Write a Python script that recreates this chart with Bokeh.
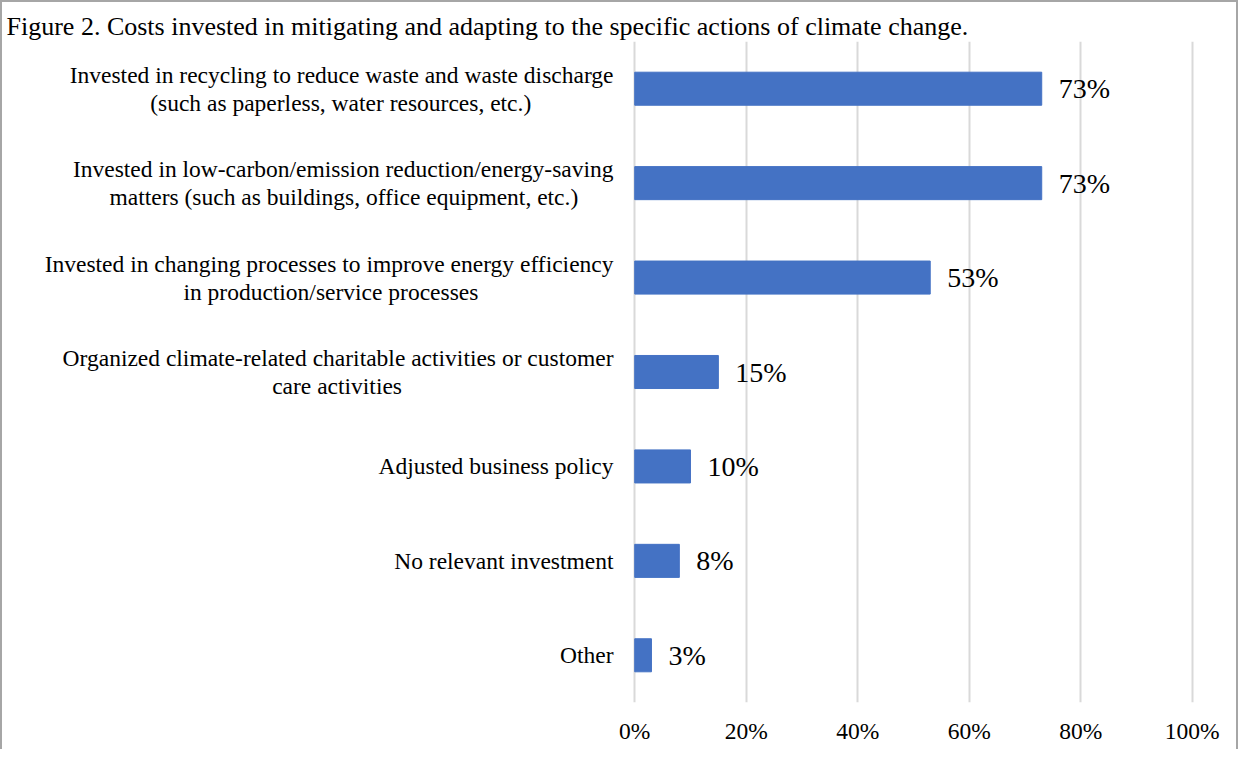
import glob
from bokeh.plotting import figure
from bokeh.models import FactorRange, Range1d, FixedTicker, PrintfTickFormatter, Title
from bokeh.embed import file_html
from bokeh.resources import INLINE
from bokeh.core.properties import value

title_text = "Figure 2. Costs invested in mitigating and adapting to the specific actions of climate change."

category_lines = [
    ["Invested in recycling to reduce waste and waste discharge",
     "(such as paperless, water resources, etc.)"],
    ["Invested in low-carbon/emission reduction/energy-saving",
     "matters (such as buildings, office equipment, etc.)"],
    ["Invested in changing processes to improve energy efficiency",
     "in production/service processes"],
    ["Organized climate-related charitable activities or customer",
     "care activities"],
    ["Adjusted business policy"],
    ["No relevant investment"],
    ["Other"],
]
values = [73, 73, 53, 15, 10, 8, 3]
value_labels = ["73%", "73%", "53%", "15%", "10%", "8%", "3%"]
x_ticks = [0, 20, 40, 60, 80, 100]

FONT = "Liberation Serif"
CAT_FS = 23.5
NBSP = "\u00a0"

# ---- measure line widths so that multi-line labels look centred ----
def make_measurer():
    try:
        from PIL import ImageFont
        paths = glob.glob("/usr/share/fonts/**/LiberationSerif-Regular.ttf", recursive=True)
        if paths:
            f = ImageFont.truetype(paths[0], 200)
            return lambda s, fs: f.getlength(s) * fs / 200.0
    except Exception:
        pass
    return lambda s, fs: (0.25 * fs if s == NBSP else 0.45 * fs * len(s))

measure = make_measurer()
nbsp_w = measure(NBSP, CAT_FS) or 0.25 * CAT_FS

def centred(lines):
    if len(lines) == 1:
        return lines[0]
    widths = [measure(l, CAT_FS) for l in lines]
    wmax = max(widths)
    out = []
    for l, w in zip(lines, widths):
        n = int(round((wmax - w) / 2.0 / nbsp_w))
        out.append(l + NBSP * n)
    return "\n".join(out)

categories = [centred(lines) for lines in category_lines]

p = figure(width=1238, height=749, output_backend="svg", toolbar_location=None,
           y_range=FactorRange(factors=list(reversed(categories))),
           x_range=Range1d(-0.4, 100.4),
           min_border_left=632, min_border_right=44, min_border_top=41, min_border_bottom=47)
p.title = Title(text=title_text, align="left", offset=-626, text_font=FONT,
                text_font_size="26px", text_font_style="normal", text_color="#000000",
                standoff=2)
p.border_fill_color = None
p.background_fill_color = None
p.outline_line_color = None
# chart frame: left, top and right edges (the bottom edge is cropped in the reference)
p.styles = {"box-shadow": "inset 2px 2px 0 0 #a6a6a6, inset -2px 0 0 0 #a6a6a6"}

p.hbar(y=categories, right=values, left=0, height=0.35, color="#4472C4")
p.text(x=values, y=categories, text=value_labels, x_offset=17, text_baseline="middle",
       text_align="left", text_font=value(FONT), text_font_size="28px", text_color="#000000")

p.ygrid.visible = False
p.xgrid.grid_line_color = "#d9d9d9"
p.xgrid.grid_line_width = 2

p.xaxis.ticker = FixedTicker(ticks=x_ticks)
p.xaxis.formatter = PrintfTickFormatter(format="%d%%")
p.xaxis.axis_line_color = None
p.xaxis.major_tick_line_color = None
p.xaxis.minor_tick_line_color = None
p.xaxis.major_tick_out = 0
p.xaxis.major_tick_in = 0
p.xaxis.major_label_standoff = 15
p.xaxis.major_label_text_font = FONT
p.xaxis.major_label_text_font_size = "23.5px"
p.xaxis.major_label_text_color = "#000000"

p.yaxis.axis_line_color = None
p.yaxis.major_tick_line_color = None
p.yaxis.minor_tick_line_color = None
p.yaxis.major_tick_out = 0
p.yaxis.major_tick_in = 0
p.yaxis.major_label_standoff = 19
p.yaxis.major_label_text_font = FONT
p.yaxis.major_label_text_font_size = f"{CAT_FS}px"
p.yaxis.major_label_text_line_height = 1.08
p.yaxis.major_label_text_color = "#000000"

open("out.html", "w").write(file_html(p, INLINE))
